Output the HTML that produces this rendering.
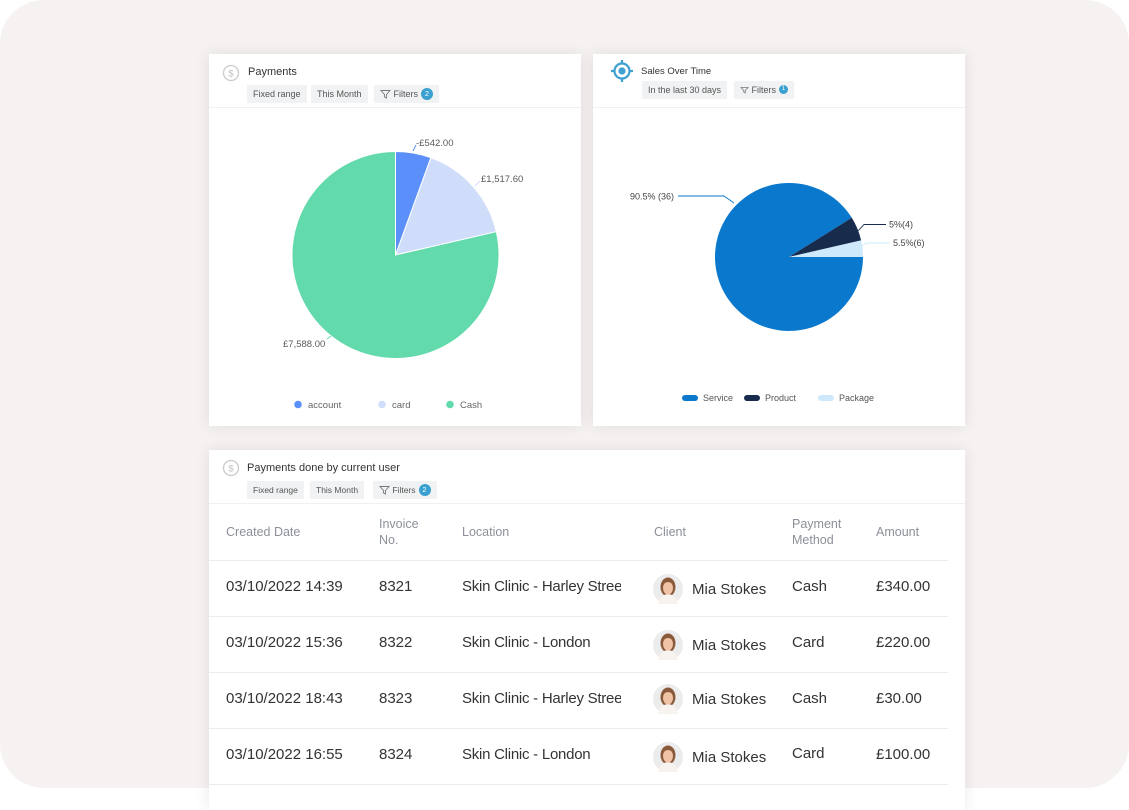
<!DOCTYPE html>
<html><head><meta charset="utf-8"><style>
*{margin:0;padding:0;box-sizing:border-box}
html,body{width:1129px;height:791px;overflow:hidden;background:#fff;font-family:"Liberation Sans",sans-serif}
#bg{position:absolute;left:0;top:0;width:1129px;height:788px;background:#f6f2f1;border-radius:44px}
.card{position:absolute;background:#fff;box-shadow:0 0 14px rgba(0,0,0,0.09)}
.t{position:absolute;white-space:nowrap}
.chip{position:absolute;background:#f1f2f3;color:#555;font-size:9px;height:18px;line-height:18px;padding:0 6px;border-radius:1px;white-space:nowrap}
.badge{display:inline-block;width:12px;height:12px;border-radius:50%;background:#3aa0cf;color:#fff;font-size:7.5px;line-height:12px;text-align:center;vertical-align:middle;margin-left:3px;margin-top:-2px}
.hsep{position:absolute;height:1px;background:#f0f0f0}
.th{position:absolute;color:#8c9099;font-size:12.5px;line-height:16px;white-space:nowrap}
.td{position:absolute;color:#333;font-size:15px;white-space:nowrap;line-height:18px}
.loc{letter-spacing:-0.25px}
.rsep{position:absolute;left:209px;width:739px;height:1px;background:#ececec}
</style></head><body>
<div id="bg"></div>

<!-- Card 1 -->
<div class="card" style="left:209px;top:54px;width:372px;height:372px"></div>
<div class="hsep" style="left:209px;top:107px;width:372px"></div>
<svg style="position:absolute;left:222px;top:64px" width="18" height="18"><circle cx="9" cy="9" r="7.5" fill="none" stroke="#c9cacc" stroke-width="1.3"/><text x="9" y="12.5" font-size="9.5" text-anchor="middle" fill="#c0c1c3" font-family="Liberation Sans">$</text></svg>
<div class="t" style="left:248px;top:66px;font-size:11px;color:#333">Payments</div>
<div class="chip" style="left:247px;top:85px">Fixed range</div>
<div class="chip" style="left:311px;top:85px">This Month</div>
<div class="chip" style="left:374px;top:85px"><svg width="11" height="10" style="vertical-align:middle;margin-top:-2px"><path d="M1 1.5H10L6.5 5.5V9L4.5 8V5.5Z" fill="none" stroke="#777" stroke-width="0.9"/></svg> Filters<span class="badge">2</span></div>

<svg style="position:absolute;left:0;top:0" width="1129" height="791">
  <g stroke="#fff" stroke-width="1">
    <path d="M395.5 255 L395.5 151.5 A103.5 103.5 0 0 1 430.9 157.7 Z" fill="#5b8ff9"/>
    <path d="M395.5 255 L430.9 157.7 A103.5 103.5 0 0 1 496.35 231.7 Z" fill="#d0ddfa"/>
    <path d="M395.5 255 L496.35 231.7 A103.5 103.5 0 1 1 395.5 151.5 Z" fill="#62daab"/>
  </g>
  <path d="M413 151 L416 145" stroke="#5b8ff9" fill="none"/>
  <path d="M475 186 L480 181" stroke="#d0ddfa" fill="none"/>
  <path d="M327 339 L331 336" stroke="#62daab" fill="none"/>
  <g font-family="Liberation Sans" font-size="9.5" fill="#595959">
    <text x="416" y="146">-£542.00</text>
    <text x="481" y="182">£1,517.60</text>
    <text x="283" y="347">£7,588.00</text>
  </g>
  <circle cx="298" cy="404.5" r="3.8" fill="#5b8ff9"/>
  <circle cx="382" cy="404.5" r="3.8" fill="#d0ddfa"/>
  <circle cx="450" cy="404.5" r="3.8" fill="#62daab"/>
  <g font-family="Liberation Sans" font-size="9.5" fill="#666">
    <text x="308" y="408">account</text>
    <text x="392" y="408">card</text>
    <text x="460" y="408">Cash</text>
  </g>
</svg>

<!-- Card 2 -->
<div class="card" style="left:593px;top:54px;width:372px;height:372px"></div>
<div class="hsep" style="left:593px;top:107px;width:372px"></div>
<svg style="position:absolute;left:610px;top:59px" width="24" height="24"><circle cx="12" cy="12" r="7.5" fill="none" stroke="#3ea0d0" stroke-width="2.2"/><circle cx="12" cy="12" r="3.6" fill="#3ea0d0"/><path d="M12 1V4.5M12 19.5V23M1 12H4.5M19.5 12H23" stroke="#3ea0d0" stroke-width="2.2"/></svg>
<div class="t" style="left:641px;top:66px;font-size:9.5px;color:#333">Sales Over Time</div>
<div class="chip" style="left:642px;top:81px">In the last 30 days</div>
<div class="chip" style="left:734px;top:81px"><svg width="9" height="8" style="vertical-align:middle;margin-top:-2px"><path d="M1 1.5H8L5.2 4.5V7L3.8 6.3V4.5Z" fill="none" stroke="#777" stroke-width="0.8"/></svg> Filters<span class="badge" style="width:9px;height:9px;font-size:6px;line-height:9px">1</span></div>

<svg style="position:absolute;left:0;top:0" width="1129" height="791">
  <path d="M789 257 L863 257 A74 74 0 1 1 851.8 217.8 Z" fill="#0a78cc"/>
  <path d="M789 257 L851.8 217.8 A74 74 0 0 1 861.1 240.4 Z" fill="#172b4d"/>
  <path d="M789 257 L861.1 240.4 A74 74 0 0 1 863 257 Z" fill="#cde9fb"/>
  <path d="M678 196 L724 196 L734 203" stroke="#0a78cc" fill="none" stroke-width="0.9"/>
  <path d="M858 231 L864 224.5 L886 224.5" stroke="#172b4d" fill="none" stroke-width="0.9"/>
  <path d="M862 246 L866 243 L890 243" stroke="#cde9fb" fill="none" stroke-width="0.9"/>
  <g font-family="Liberation Sans" font-size="9" fill="#444">
    <text x="630" y="199.5">90.5% (36)</text>
    <text x="889" y="227.5">5%(4)</text>
    <text x="893" y="246">5.5%(6)</text>
  </g>
  <rect x="682" y="395" width="16" height="6" rx="3" fill="#0a78cc"/>
  <rect x="744" y="395" width="16" height="6" rx="3" fill="#172b4d"/>
  <rect x="818" y="395" width="16" height="6" rx="3" fill="#cde9fb"/>
  <g font-family="Liberation Sans" font-size="9" fill="#555">
    <text x="703" y="401">Service</text>
    <text x="765" y="401">Product</text>
    <text x="839" y="401">Package</text>
  </g>
</svg>

<!-- Card 3 -->
<div class="card" style="left:209px;top:450px;width:756px;height:360px"></div>
<div class="hsep" style="left:209px;top:503px;width:756px"></div>
<svg style="position:absolute;left:222px;top:459px" width="18" height="18"><circle cx="9" cy="9" r="7.5" fill="none" stroke="#c9cacc" stroke-width="1.3"/><text x="9" y="12.5" font-size="9.5" text-anchor="middle" fill="#c0c1c3" font-family="Liberation Sans">$</text></svg>
<div class="t" style="left:247px;top:462px;font-size:11px;color:#333">Payments done by current user</div>
<div class="chip" style="left:247px;top:481px;font-size:8.5px">Fixed range</div>
<div class="chip" style="left:310px;top:481px;font-size:8.5px">This Month</div>
<div class="chip" style="left:373px;top:481px;font-size:8.5px"><svg width="11" height="10" style="vertical-align:middle;margin-top:-2px"><path d="M1 1.5H10L6.5 5.5V9L4.5 8V5.5Z" fill="none" stroke="#777" stroke-width="0.9"/></svg> Filters<span class="badge">2</span></div>

<div class="th" style="left:226px;top:524px">Created Date</div>
<div class="th" style="left:379px;top:516px">Invoice<br>No.</div>
<div class="th" style="left:462px;top:524px">Location</div>
<div class="th" style="left:654px;top:524px">Client</div>
<div class="th" style="left:792px;top:516px">Payment<br>Method</div>
<div class="th" style="left:876px;top:524px">Amount</div>
<div class="rsep" style="top:560px"></div>

<div class="td" style="left:226px;top:578px">03/10/2022 14:39</div>
<div class="td" style="left:379px;top:578px">8321</div>
<div class="td loc" style="left:462px;top:578px;width:159px;overflow:hidden">Skin Clinic - Harley Street</div>
<div class="td" style="left:692px;top:581px">Mia Stokes</div>
<div class="td" style="left:792px;top:578px">Cash</div>
<div class="td" style="left:876px;top:578px">£340.00</div>
<div class="rsep" style="top:616px"></div>

<div class="td" style="left:226px;top:634px">03/10/2022 15:36</div>
<div class="td" style="left:379px;top:634px">8322</div>
<div class="td loc" style="left:462px;top:634px">Skin Clinic - London</div>
<div class="td" style="left:692px;top:637px">Mia Stokes</div>
<div class="td" style="left:792px;top:634px">Card</div>
<div class="td" style="left:876px;top:634px">£220.00</div>
<div class="rsep" style="top:672px"></div>

<div class="td" style="left:226px;top:690px">03/10/2022 18:43</div>
<div class="td" style="left:379px;top:690px">8323</div>
<div class="td loc" style="left:462px;top:690px;width:159px;overflow:hidden">Skin Clinic - Harley Street</div>
<div class="td" style="left:692px;top:691px">Mia Stokes</div>
<div class="td" style="left:792px;top:690px">Cash</div>
<div class="td" style="left:876px;top:690px">£30.00</div>
<div class="rsep" style="top:728px"></div>

<div class="td" style="left:226px;top:746px">03/10/2022 16:55</div>
<div class="td" style="left:379px;top:746px">8324</div>
<div class="td loc" style="left:462px;top:746px">Skin Clinic - London</div>
<div class="td" style="left:692px;top:749px">Mia Stokes</div>
<div class="td" style="left:792px;top:745px">Card</div>
<div class="td" style="left:876px;top:746px">£100.00</div>
<div class="rsep" style="top:784px"></div>

<svg style="position:absolute;left:0;top:0" width="1129" height="791">
  <defs>
    <g id="av">
      <circle cx="0" cy="0" r="15" fill="#ececec"/>
      <ellipse cx="0" cy="-2" rx="7.5" ry="9.5" fill="#8a5a3c"/>
      <path d="M-10 15 Q-9 6 0 5 Q9 6 10 15 Z" fill="#f7f3ef"/>
      <ellipse cx="0" cy="-1" rx="5" ry="6.5" fill="#efc3a3"/>
      <path d="M-5.5 -4 Q0 -10 5.5 -4 Q5 -9 0 -9 Q-5 -9 -5.5 -4Z" fill="#8a5a3c"/>
    </g>
  </defs>
  <use href="#av" x="668" y="589"/>
  <use href="#av" x="668" y="645"/>
  <use href="#av" x="668" y="699"/>
  <use href="#av" x="668" y="757"/>
</svg>
</body></html>
